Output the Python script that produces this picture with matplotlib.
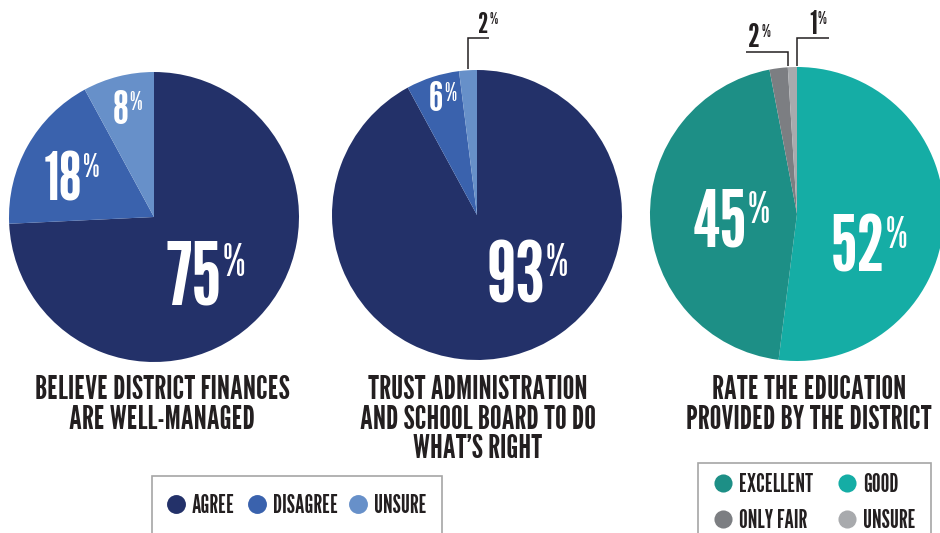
import numpy as np
import matplotlib
matplotlib.use("Agg")
import matplotlib.pyplot as plt
from matplotlib.patches import Rectangle

W, H = 940, 533
FONT = ["League Gothic", "Bebas Neue", "DejaVu Sans"]
DARK = "#231f20"
CAP = 0.74  # cap height / em of the condensed face

# survey answers (percent), clockwise from 12 o'clock
resp_labels = ["AGREE", "DISAGREE", "UNSURE"]
finance_values = [75, 18, 8]
trust_values = [93, 6, 2]
resp_colors = ["#233169", "#3a62ad", "#6790c9"]

edu_labels = ["EXCELLENT", "GOOD", "ONLY FAIR", "UNSURE"]
edu_values = [45, 52, 2, 1]
edu_colors = ["#1d8f86", "#15ada5", "#7c7e82", "#a8aaad"]
edu_order = [1, 0, 2, 3]  # good first, then excellent, only fair, unsure

titles = [
    "BELIEVE DISTRICT FINANCES\nARE WELL-MANAGED",
    "TRUST ADMINISTRATION\nAND SCHOOL BOARD TO DO\nWHAT\u2019S RIGHT",
    "RATE THE EDUCATION\nPROVIDED BY THE DISTRICT",
]


def Y(y):
    # pixel rows from the top -> data y
    return H - y


def fs(cap_px):
    return cap_px / CAP * 0.72


def pct_label(ax, x_right, y_top, value, cap, color="white", ratio=0.52):
    # va="top" aligns on the ascender, which sits a bit above the digits
    ax.text(x_right, Y(y_top - 0.07 * cap), str(value), ha="right", va="top",
            fontsize=fs(cap), color=color, family=FONT)
    ax.text(x_right + 1, Y(y_top - 0.07 * cap * ratio), "%", ha="left", va="top",
            fontsize=fs(cap * ratio), color=color, family=FONT)


def leader(ax, wedge, frac, y_elbow, x_end):
    ang = np.deg2rad(wedge.theta1 + frac * (wedge.theta2 - wedge.theta1))
    cx, cy = wedge.center
    x0 = cx + wedge.r * np.cos(ang)
    y0 = cy + wedge.r * np.sin(ang)
    ax.plot([x0, x0, x_end], [y0 + 1, Y(y_elbow), Y(y_elbow)], color=DARK, lw=1.1,
            solid_capstyle="butt", solid_joinstyle="miter")


fig = plt.figure(figsize=(W / 100, H / 100), dpi=100)
ax = fig.add_axes([0, 0, 1, 1])

pie_kw = dict(startangle=90, counterclock=False, wedgeprops=dict(linewidth=0))
ax.pie(finance_values, colors=resp_colors, center=(154, Y(217)), radius=145, **pie_kw)
w2, _ = ax.pie(trust_values, colors=resp_colors, center=(477, Y(215)), radius=145, **pie_kw)
w3, _ = ax.pie([edu_values[i] for i in edu_order], colors=[edu_colors[i] for i in edu_order],
               center=(797, Y(214)), radius=147, **pie_kw)

ax.set_xlim(0, W)
ax.set_ylim(0, H)
ax.set_aspect("equal")
ax.axis("off")

# in-slice labels
pct_label(ax, 222, 245, finance_values[0], 64)
pct_label(ax, 82, 155, finance_values[1], 49, ratio=0.5)
pct_label(ax, 128, 92, finance_values[2], 34, ratio=0.55)
pct_label(ax, 545, 245, trust_values[0], 63)
pct_label(ax, 443, 83, trust_values[1], 31, ratio=0.58)
pct_label(ax, 747, 193, edu_values[0], 58, ratio=0.56)
pct_label(ax, 885, 218, edu_values[1], 57, ratio=0.56)

# small slices labelled outside
leader(ax, w2[2], 0.5, 38, 489)
pct_label(ax, 488, 13, trust_values[2], 21, color=DARK, ratio=0.58)
leader(ax, w3[2], 0.0, 52, 746)
pct_label(ax, 760, 25, edu_values[2], 24, color=DARK, ratio=0.55)
leader(ax, w3[3], 0.0, 38, 829)
pct_label(ax, 817, 12, edu_values[3], 24, color=DARK, ratio=0.55)

# titles
for x, t in zip([162, 478, 809], titles):
    ax.text(x, Y(375), t, ha="center", va="top", multialignment="center",
            fontsize=fs(24.5), color=DARK, family=FONT, linespacing=0.98)

# legend boxes
box_kw = dict(fill=False, edgecolor="#a6a6a6", lw=1.2, clip_on=True)
ax.add_patch(Rectangle((152, Y(476) - 80), 442 - 152, 80, **box_kw))
ax.add_patch(Rectangle((698, Y(463) - 80), 931 - 698, 80, **box_kw))

for x, lab, c in zip([176, 257, 358], resp_labels, resp_colors):
    ax.scatter(x, Y(504), s=185, color=c, linewidths=0)
    ax.text(x + 16, Y(513), lab, ha="left", va="baseline", fontsize=fs(18),
            color=DARK, family=FONT)

edu_pos = [(723, 483), (847, 483), (723, 519), (847, 519)]
for (x, y), lab, c in zip(edu_pos, edu_labels, edu_colors):
    ax.scatter(x, Y(y), s=170, color=c, linewidths=0)
    ax.text(x + 16, Y(y + 9), lab, ha="left", va="baseline", fontsize=fs(18),
            color=DARK, family=FONT)

fig.savefig("out.png", dpi=100)
